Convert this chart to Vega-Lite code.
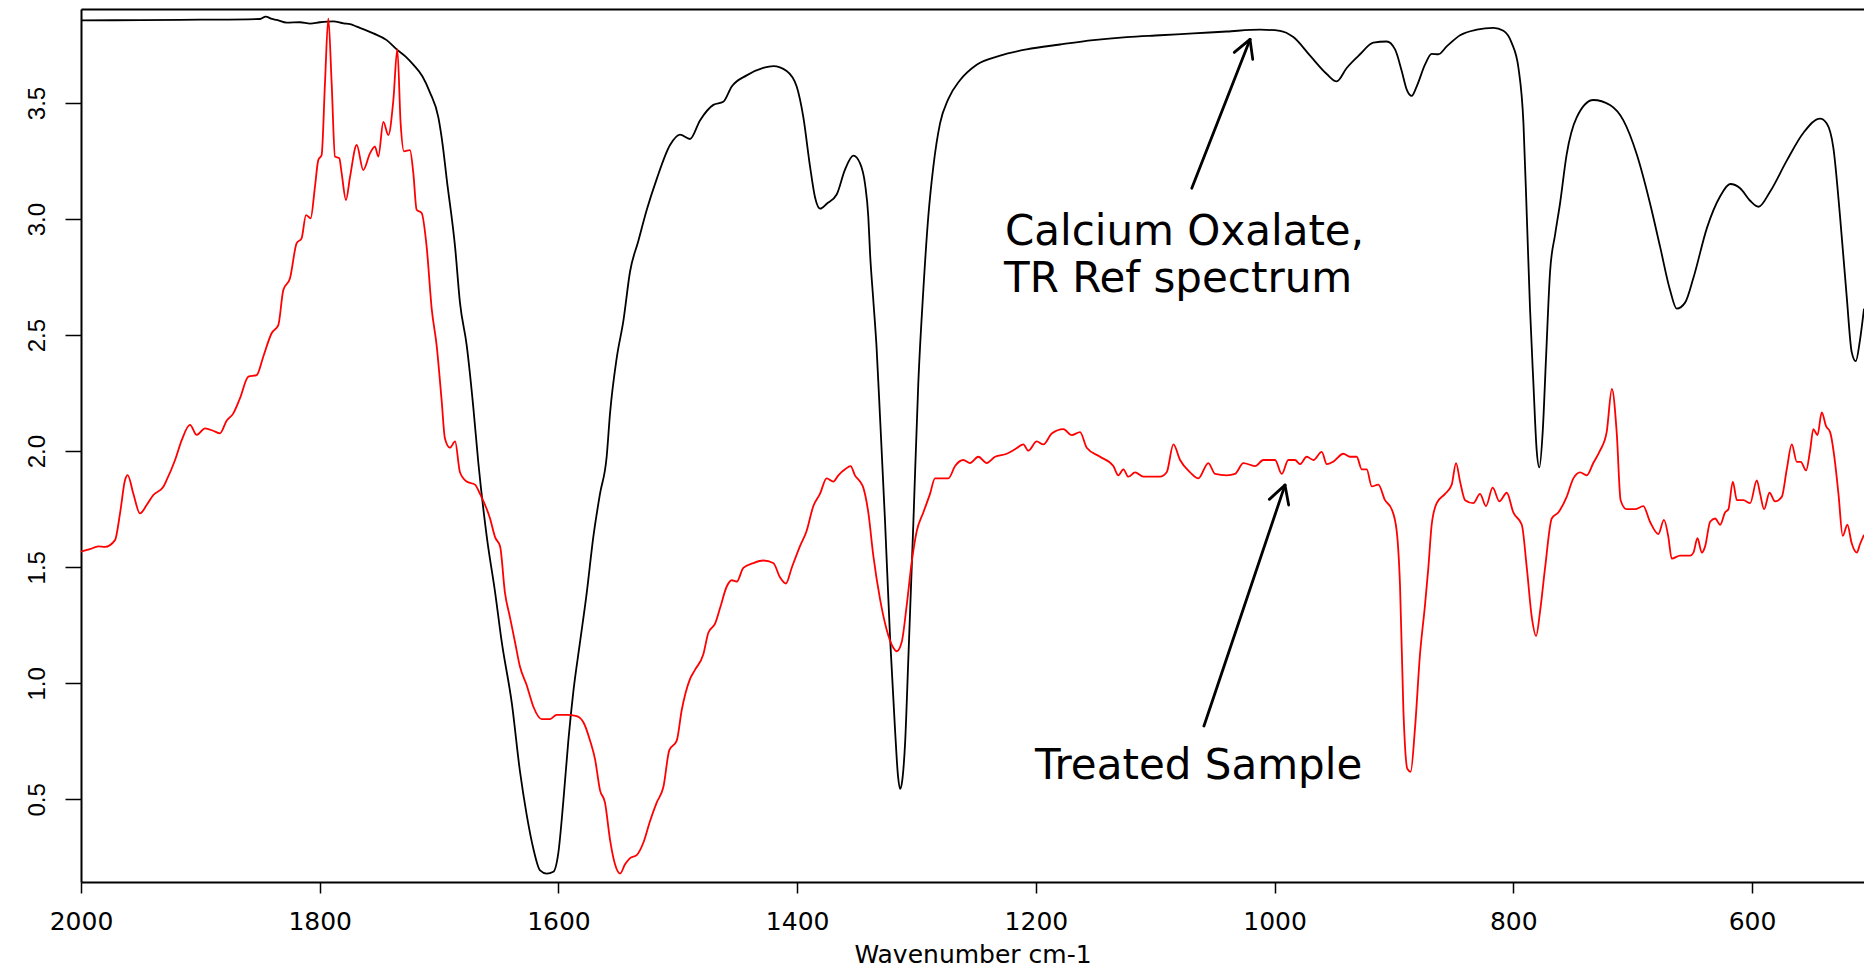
{
  "$schema": "https://vega.github.io/schema/vega-lite/v6.json",
  "width": 1783,
  "height": 873,
  "autosize": {"type": "none"},
  "padding": {"left": 81, "top": 9, "right": 0, "bottom": 86},
  "background": "white",
  "config": {
    "view": {"stroke": null},
    "axis": {"grid": false, "domainColor": "black", "tickColor": "black", "labelColor": "black", "titleColor": "black"}
  },
  "datasets": {
    "ref": [
      {"wavenumber": 2000, "absorbance": 3.856}, {"wavenumber": 1950, "absorbance": 3.857}, {"wavenumber": 1900, "absorbance": 3.859},
      {"wavenumber": 1850, "absorbance": 3.862}, {"wavenumber": 1845.3, "absorbance": 3.872}, {"wavenumber": 1840, "absorbance": 3.862},
      {"wavenumber": 1836, "absorbance": 3.858}, {"wavenumber": 1827.7, "absorbance": 3.846}, {"wavenumber": 1816.5, "absorbance": 3.848},
      {"wavenumber": 1808, "absorbance": 3.842}, {"wavenumber": 1799.8, "absorbance": 3.848}, {"wavenumber": 1788.6, "absorbance": 3.852},
      {"wavenumber": 1780, "absorbance": 3.843}, {"wavenumber": 1774.6, "absorbance": 3.84}, {"wavenumber": 1769, "absorbance": 3.829},
      {"wavenumber": 1755, "absorbance": 3.8}, {"wavenumber": 1743.9, "absorbance": 3.771}, {"wavenumber": 1735.5, "absorbance": 3.731},
      {"wavenumber": 1728, "absorbance": 3.7}, {"wavenumber": 1721.6, "absorbance": 3.665}, {"wavenumber": 1714, "absorbance": 3.615},
      {"wavenumber": 1707.6, "absorbance": 3.545}, {"wavenumber": 1700.6, "absorbance": 3.438}, {"wavenumber": 1697, "absorbance": 3.32},
      {"wavenumber": 1693.6, "absorbance": 3.172}, {"wavenumber": 1686.6, "absorbance": 2.88}, {"wavenumber": 1682.5, "absorbance": 2.64},
      {"wavenumber": 1676.8, "absorbance": 2.454}, {"wavenumber": 1671.3, "absorbance": 2.188}, {"wavenumber": 1667.1, "absorbance": 1.949},
      {"wavenumber": 1660, "absorbance": 1.63}, {"wavenumber": 1653, "absorbance": 1.39}, {"wavenumber": 1647.5, "absorbance": 1.178},
      {"wavenumber": 1639, "absorbance": 0.912}, {"wavenumber": 1632.2, "absorbance": 0.619}, {"wavenumber": 1626.6, "absorbance": 0.433},
      {"wavenumber": 1621, "absorbance": 0.287}, {"wavenumber": 1615.4, "absorbance": 0.194}, {"wavenumber": 1609.8, "absorbance": 0.18},
      {"wavenumber": 1604.3, "absorbance": 0.188}, {"wavenumber": 1600, "absorbance": 0.273}, {"wavenumber": 1596, "absorbance": 0.486},
      {"wavenumber": 1591.7, "absorbance": 0.753}, {"wavenumber": 1587.5, "absorbance": 0.965}, {"wavenumber": 1581.9, "absorbance": 1.178},
      {"wavenumber": 1576.3, "absorbance": 1.39}, {"wavenumber": 1570.8, "absorbance": 1.63}, {"wavenumber": 1565.2, "absorbance": 1.816},
      {"wavenumber": 1559.6, "absorbance": 1.976}, {"wavenumber": 1556.8, "absorbance": 2.162}, {"wavenumber": 1551.2, "absorbance": 2.401},
      {"wavenumber": 1545.6, "absorbance": 2.561}, {"wavenumber": 1540, "absorbance": 2.774}, {"wavenumber": 1533, "absorbance": 2.907},
      {"wavenumber": 1526, "absorbance": 3.04}, {"wavenumber": 1517.7, "absorbance": 3.172}, {"wavenumber": 1506.5, "absorbance": 3.319},
      {"wavenumber": 1498.2, "absorbance": 3.364}, {"wavenumber": 1489.8, "absorbance": 3.345}, {"wavenumber": 1481.4, "absorbance": 3.425},
      {"wavenumber": 1470.2, "absorbance": 3.492}, {"wavenumber": 1461.9, "absorbance": 3.505}, {"wavenumber": 1454.8, "absorbance": 3.571},
      {"wavenumber": 1442.3, "absorbance": 3.619}, {"wavenumber": 1428.4, "absorbance": 3.651}, {"wavenumber": 1420, "absorbance": 3.659},
      {"wavenumber": 1408.8, "absorbance": 3.638}, {"wavenumber": 1400.4, "absorbance": 3.571}, {"wavenumber": 1394.8, "absorbance": 3.438},
      {"wavenumber": 1389.2, "absorbance": 3.226}, {"wavenumber": 1385, "absorbance": 3.093}, {"wavenumber": 1380.8, "absorbance": 3.045},
      {"wavenumber": 1375.2, "absorbance": 3.066}, {"wavenumber": 1366.9, "absorbance": 3.106}, {"wavenumber": 1360, "absorbance": 3.212},
      {"wavenumber": 1352.9, "absorbance": 3.273}, {"wavenumber": 1347.3, "absorbance": 3.24}, {"wavenumber": 1343.1, "absorbance": 3.15},
      {"wavenumber": 1340.4, "absorbance": 3.01}, {"wavenumber": 1338.9, "absorbance": 2.85}, {"wavenumber": 1336.2, "absorbance": 2.65},
      {"wavenumber": 1333.5, "absorbance": 2.45}, {"wavenumber": 1330.6, "absorbance": 2.15}, {"wavenumber": 1326.4, "absorbance": 1.7},
      {"wavenumber": 1322.2, "absorbance": 1.2}, {"wavenumber": 1318, "absorbance": 0.8}, {"wavenumber": 1315.5, "absorbance": 0.6},
      {"wavenumber": 1313.8, "absorbance": 0.545}, {"wavenumber": 1312, "absorbance": 0.58}, {"wavenumber": 1309.5, "absorbance": 0.75},
      {"wavenumber": 1306.9, "absorbance": 1.1}, {"wavenumber": 1302.7, "absorbance": 1.683}, {"wavenumber": 1298.5, "absorbance": 2.295},
      {"wavenumber": 1294.3, "absorbance": 2.694}, {"wavenumber": 1290.1, "absorbance": 3.013}, {"wavenumber": 1285.9, "absorbance": 3.226},
      {"wavenumber": 1280.3, "absorbance": 3.412}, {"wavenumber": 1273.3, "absorbance": 3.518}, {"wavenumber": 1263.6, "absorbance": 3.598},
      {"wavenumber": 1249.6, "absorbance": 3.665}, {"wavenumber": 1230, "absorbance": 3.704}, {"wavenumber": 1207.7, "absorbance": 3.731},
      {"wavenumber": 1179.8, "absorbance": 3.752}, {"wavenumber": 1151.9, "absorbance": 3.771}, {"wavenumber": 1123.9, "absorbance": 3.784},
      {"wavenumber": 1096, "absorbance": 3.792}, {"wavenumber": 1068.1, "absorbance": 3.8}, {"wavenumber": 1040.1, "absorbance": 3.808},
      {"wavenumber": 1012.2, "absorbance": 3.816}, {"wavenumber": 995.5, "absorbance": 3.811}, {"wavenumber": 984.3, "absorbance": 3.784},
      {"wavenumber": 970.3, "absorbance": 3.704}, {"wavenumber": 956.3, "absorbance": 3.625}, {"wavenumber": 948, "absorbance": 3.593},
      {"wavenumber": 939.6, "absorbance": 3.651}, {"wavenumber": 928.4, "absorbance": 3.71}, {"wavenumber": 917.3, "absorbance": 3.76},
      {"wavenumber": 906.1, "absorbance": 3.765}, {"wavenumber": 899.1, "absorbance": 3.731}, {"wavenumber": 893.5, "absorbance": 3.638},
      {"wavenumber": 889.3, "absorbance": 3.558}, {"wavenumber": 885.1, "absorbance": 3.531}, {"wavenumber": 881, "absorbance": 3.571},
      {"wavenumber": 874, "absorbance": 3.665}, {"wavenumber": 868.4, "absorbance": 3.712}, {"wavenumber": 862.8, "absorbance": 3.71},
      {"wavenumber": 855.8, "absorbance": 3.744}, {"wavenumber": 844.6, "absorbance": 3.792}, {"wavenumber": 830.6, "absorbance": 3.816},
      {"wavenumber": 816.7, "absorbance": 3.824}, {"wavenumber": 808.3, "absorbance": 3.811}, {"wavenumber": 801.3, "absorbance": 3.758},
      {"wavenumber": 795.7, "absorbance": 3.651}, {"wavenumber": 791.5, "absorbance": 3.412}, {"wavenumber": 788.7, "absorbance": 3.013},
      {"wavenumber": 786, "absorbance": 2.614}, {"wavenumber": 783.2, "absorbance": 2.295}, {"wavenumber": 780.4, "absorbance": 2.002},
      {"wavenumber": 778.2, "absorbance": 1.93}, {"wavenumber": 775.4, "absorbance": 2.082}, {"wavenumber": 772.6, "absorbance": 2.401},
      {"wavenumber": 769.2, "absorbance": 2.774}, {"wavenumber": 765, "absorbance": 2.933}, {"wavenumber": 760.9, "absorbance": 3.066},
      {"wavenumber": 755.3, "absorbance": 3.279}, {"wavenumber": 746.9, "absorbance": 3.438}, {"wavenumber": 733, "absorbance": 3.513},
      {"wavenumber": 719, "absorbance": 3.491}, {"wavenumber": 707.8, "absorbance": 3.425}, {"wavenumber": 696.6, "absorbance": 3.279},
      {"wavenumber": 685.4, "absorbance": 3.066}, {"wavenumber": 677, "absorbance": 2.88}, {"wavenumber": 668.7, "absorbance": 2.694},
      {"wavenumber": 663.1, "absorbance": 2.614}, {"wavenumber": 656.1, "absorbance": 2.64}, {"wavenumber": 649.1, "absorbance": 2.747},
      {"wavenumber": 637.9, "absorbance": 2.96}, {"wavenumber": 626.7, "absorbance": 3.098}, {"wavenumber": 618.3, "absorbance": 3.151},
      {"wavenumber": 610, "absorbance": 3.133}, {"wavenumber": 601.6, "absorbance": 3.079}, {"wavenumber": 594.6, "absorbance": 3.053},
      {"wavenumber": 584.8, "absorbance": 3.119}, {"wavenumber": 570.9, "absorbance": 3.252}, {"wavenumber": 556.9, "absorbance": 3.372},
      {"wavenumber": 543, "absorbance": 3.433}, {"wavenumber": 537.4, "absorbance": 3.412}, {"wavenumber": 531.8, "absorbance": 3.305},
      {"wavenumber": 526.3, "absorbance": 3.013}, {"wavenumber": 520.7, "absorbance": 2.667}, {"wavenumber": 516.5, "absorbance": 2.427},
      {"wavenumber": 513.1, "absorbance": 2.388}, {"wavenumber": 509.5, "absorbance": 2.481}, {"wavenumber": 506.2, "absorbance": 2.614}
    ],
    "sample": [
      {"wavenumber": 2000, "absorbance": 1.567}, {"wavenumber": 1992.5, "absorbance": 1.578}, {"wavenumber": 1985.5, "absorbance": 1.59},
      {"wavenumber": 1979.9, "absorbance": 1.588}, {"wavenumber": 1971.5, "absorbance": 1.617}, {"wavenumber": 1967.3, "absorbance": 1.732},
      {"wavenumber": 1963.1, "absorbance": 1.876}, {"wavenumber": 1960.9, "absorbance": 1.897}, {"wavenumber": 1956.2, "absorbance": 1.818},
      {"wavenumber": 1950.6, "absorbance": 1.732}, {"wavenumber": 1945, "absorbance": 1.768}, {"wavenumber": 1939.4, "absorbance": 1.811},
      {"wavenumber": 1931, "absorbance": 1.847}, {"wavenumber": 1928.2, "absorbance": 1.876}, {"wavenumber": 1921.2, "absorbance": 1.962},
      {"wavenumber": 1915.6, "absorbance": 2.048}, {"wavenumber": 1908.7, "absorbance": 2.113}, {"wavenumber": 1903.1, "absorbance": 2.07},
      {"wavenumber": 1896.1, "absorbance": 2.098}, {"wavenumber": 1889.2, "absorbance": 2.088}, {"wavenumber": 1883.6, "absorbance": 2.077},
      {"wavenumber": 1878, "absorbance": 2.131}, {"wavenumber": 1872.4, "absorbance": 2.163}, {"wavenumber": 1866.8, "absorbance": 2.228},
      {"wavenumber": 1859.8, "absorbance": 2.321}, {"wavenumber": 1852.8, "absorbance": 2.328}, {"wavenumber": 1847.3, "absorbance": 2.407},
      {"wavenumber": 1840.3, "absorbance": 2.508}, {"wavenumber": 1834.7, "absorbance": 2.543}, {"wavenumber": 1830.5, "absorbance": 2.694},
      {"wavenumber": 1824.9, "absorbance": 2.745}, {"wavenumber": 1819.3, "absorbance": 2.896}, {"wavenumber": 1815.2, "absorbance": 2.917},
      {"wavenumber": 1811.5, "absorbance": 3.017}, {"wavenumber": 1807.6, "absorbance": 3.003}, {"wavenumber": 1804, "absorbance": 3.139},
      {"wavenumber": 1801.2, "absorbance": 3.254}, {"wavenumber": 1798.4, "absorbance": 3.276}, {"wavenumber": 1795.6, "absorbance": 3.585},
      {"wavenumber": 1792.8, "absorbance": 3.865}, {"wavenumber": 1790, "absorbance": 3.585}, {"wavenumber": 1787.2, "absorbance": 3.269},
      {"wavenumber": 1783.6, "absorbance": 3.262}, {"wavenumber": 1781.6, "absorbance": 3.197}, {"wavenumber": 1778, "absorbance": 3.082},
      {"wavenumber": 1774.6, "absorbance": 3.182}, {"wavenumber": 1769, "absorbance": 3.319}, {"wavenumber": 1763.5, "absorbance": 3.211},
      {"wavenumber": 1757.9, "absorbance": 3.283}, {"wavenumber": 1753.7, "absorbance": 3.312}, {"wavenumber": 1750.9, "absorbance": 3.269},
      {"wavenumber": 1746.7, "absorbance": 3.419}, {"wavenumber": 1742.5, "absorbance": 3.362}, {"wavenumber": 1738.3, "absorbance": 3.513},
      {"wavenumber": 1735, "absorbance": 3.732}, {"wavenumber": 1732.2, "absorbance": 3.412}, {"wavenumber": 1729.4, "absorbance": 3.292},
      {"wavenumber": 1724.4, "absorbance": 3.297}, {"wavenumber": 1721.6, "absorbance": 3.199}, {"wavenumber": 1718.8, "absorbance": 3.04},
      {"wavenumber": 1714.6, "absorbance": 3.026}, {"wavenumber": 1710.4, "absorbance": 2.88}, {"wavenumber": 1706.2, "absorbance": 2.614},
      {"wavenumber": 1702, "absorbance": 2.454}, {"wavenumber": 1697.8, "absorbance": 2.215}, {"wavenumber": 1695.1, "absorbance": 2.055},
      {"wavenumber": 1690.9, "absorbance": 2.015}, {"wavenumber": 1686.6, "absorbance": 2.042}, {"wavenumber": 1682.5, "absorbance": 1.909},
      {"wavenumber": 1676.9, "absorbance": 1.869}, {"wavenumber": 1669.9, "absorbance": 1.856}, {"wavenumber": 1665.7, "absorbance": 1.816},
      {"wavenumber": 1657.3, "absorbance": 1.71}, {"wavenumber": 1653.1, "absorbance": 1.63}, {"wavenumber": 1648.9, "absorbance": 1.59},
      {"wavenumber": 1644.8, "absorbance": 1.39}, {"wavenumber": 1640.6, "absorbance": 1.284}, {"wavenumber": 1636.4, "absorbance": 1.178},
      {"wavenumber": 1632.2, "absorbance": 1.071}, {"wavenumber": 1626.6, "absorbance": 0.992}, {"wavenumber": 1621, "absorbance": 0.899},
      {"wavenumber": 1614, "absorbance": 0.846}, {"wavenumber": 1607, "absorbance": 0.846}, {"wavenumber": 1601.5, "absorbance": 0.864},
      {"wavenumber": 1593.1, "absorbance": 0.864}, {"wavenumber": 1584.7, "absorbance": 0.859}, {"wavenumber": 1579.1, "absorbance": 0.832},
      {"wavenumber": 1573.5, "absorbance": 0.753}, {"wavenumber": 1569.3, "absorbance": 0.672}, {"wavenumber": 1565.2, "absorbance": 0.54},
      {"wavenumber": 1561, "absorbance": 0.486}, {"wavenumber": 1556.8, "absorbance": 0.327}, {"wavenumber": 1552.6, "absorbance": 0.22},
      {"wavenumber": 1548.4, "absorbance": 0.18}, {"wavenumber": 1544.2, "absorbance": 0.22}, {"wavenumber": 1540, "absorbance": 0.247},
      {"wavenumber": 1534.4, "absorbance": 0.26}, {"wavenumber": 1528.9, "absorbance": 0.313}, {"wavenumber": 1523.3, "absorbance": 0.406},
      {"wavenumber": 1517.7, "absorbance": 0.486}, {"wavenumber": 1512.1, "absorbance": 0.553}, {"wavenumber": 1507.1, "absorbance": 0.712},
      {"wavenumber": 1500.9, "absorbance": 0.753}, {"wavenumber": 1496.7, "absorbance": 0.885}, {"wavenumber": 1489.8, "absorbance": 1.018},
      {"wavenumber": 1485.6, "absorbance": 1.058}, {"wavenumber": 1478.6, "absorbance": 1.125}, {"wavenumber": 1474.4, "absorbance": 1.218},
      {"wavenumber": 1468.8, "absorbance": 1.257}, {"wavenumber": 1464.6, "absorbance": 1.324}, {"wavenumber": 1459, "absorbance": 1.417},
      {"wavenumber": 1454.8, "absorbance": 1.444}, {"wavenumber": 1450.6, "absorbance": 1.438}, {"wavenumber": 1445.1, "absorbance": 1.497},
      {"wavenumber": 1436.7, "absorbance": 1.518}, {"wavenumber": 1428.4, "absorbance": 1.529}, {"wavenumber": 1420, "absorbance": 1.518},
      {"wavenumber": 1414.4, "absorbance": 1.457}, {"wavenumber": 1409.4, "absorbance": 1.43}, {"wavenumber": 1404.6, "absorbance": 1.497},
      {"wavenumber": 1397.7, "absorbance": 1.59}, {"wavenumber": 1392.1, "absorbance": 1.656}, {"wavenumber": 1386.5, "absorbance": 1.763},
      {"wavenumber": 1380.9, "absorbance": 1.816}, {"wavenumber": 1375.3, "absorbance": 1.883}, {"wavenumber": 1369.7, "absorbance": 1.869},
      {"wavenumber": 1365.5, "absorbance": 1.896}, {"wavenumber": 1359.9, "absorbance": 1.922}, {"wavenumber": 1355.2, "absorbance": 1.936},
      {"wavenumber": 1351.6, "absorbance": 1.896}, {"wavenumber": 1347.3, "absorbance": 1.869}, {"wavenumber": 1344.6, "absorbance": 1.843},
      {"wavenumber": 1340.4, "absorbance": 1.736}, {"wavenumber": 1336.2, "absorbance": 1.55}, {"wavenumber": 1330.6, "absorbance": 1.364},
      {"wavenumber": 1325, "absorbance": 1.231}, {"wavenumber": 1319.3, "absorbance": 1.152}, {"wavenumber": 1316.6, "absorbance": 1.138},
      {"wavenumber": 1312.4, "absorbance": 1.178}, {"wavenumber": 1308.2, "absorbance": 1.337}, {"wavenumber": 1304, "absorbance": 1.523},
      {"wavenumber": 1299.8, "absorbance": 1.656}, {"wavenumber": 1294.3, "absorbance": 1.736}, {"wavenumber": 1288.7, "absorbance": 1.816},
      {"wavenumber": 1284.5, "absorbance": 1.883}, {"wavenumber": 1273.3, "absorbance": 1.883}, {"wavenumber": 1267.7, "absorbance": 1.936},
      {"wavenumber": 1260.8, "absorbance": 1.962}, {"wavenumber": 1255.2, "absorbance": 1.949}, {"wavenumber": 1248.2, "absorbance": 1.976},
      {"wavenumber": 1241.2, "absorbance": 1.949}, {"wavenumber": 1234.2, "absorbance": 1.976}, {"wavenumber": 1224.4, "absorbance": 1.989},
      {"wavenumber": 1217.5, "absorbance": 2.008}, {"wavenumber": 1210.5, "absorbance": 2.029}, {"wavenumber": 1206.3, "absorbance": 2.002},
      {"wavenumber": 1199.3, "absorbance": 2.042}, {"wavenumber": 1193.7, "absorbance": 2.029}, {"wavenumber": 1186.7, "absorbance": 2.076},
      {"wavenumber": 1177, "absorbance": 2.095}, {"wavenumber": 1170, "absorbance": 2.069}, {"wavenumber": 1163, "absorbance": 2.082},
      {"wavenumber": 1157.4, "absorbance": 2.015}, {"wavenumber": 1146.2, "absorbance": 1.976}, {"wavenumber": 1135.1, "absorbance": 1.936},
      {"wavenumber": 1130.9, "absorbance": 1.896}, {"wavenumber": 1126.7, "absorbance": 1.922}, {"wavenumber": 1122.5, "absorbance": 1.89},
      {"wavenumber": 1116.9, "absorbance": 1.909}, {"wavenumber": 1109.9, "absorbance": 1.89}, {"wavenumber": 1096, "absorbance": 1.89},
      {"wavenumber": 1090.4, "absorbance": 1.909}, {"wavenumber": 1084.8, "absorbance": 2.029}, {"wavenumber": 1079.2, "absorbance": 1.962},
      {"wavenumber": 1070.8, "absorbance": 1.909}, {"wavenumber": 1063.9, "absorbance": 1.883}, {"wavenumber": 1055.5, "absorbance": 1.949},
      {"wavenumber": 1049.9, "absorbance": 1.902}, {"wavenumber": 1040.1, "absorbance": 1.896}, {"wavenumber": 1033.1, "absorbance": 1.902},
      {"wavenumber": 1026.2, "absorbance": 1.949}, {"wavenumber": 1016.4, "absorbance": 1.936}, {"wavenumber": 1009.4, "absorbance": 1.962},
      {"wavenumber": 999.6, "absorbance": 1.962}, {"wavenumber": 994, "absorbance": 1.902}, {"wavenumber": 988.5, "absorbance": 1.962},
      {"wavenumber": 982.9, "absorbance": 1.962}, {"wavenumber": 978.7, "absorbance": 1.944}, {"wavenumber": 973.1, "absorbance": 1.976},
      {"wavenumber": 967.5, "absorbance": 1.962}, {"wavenumber": 960.5, "absorbance": 1.997}, {"wavenumber": 956.3, "absorbance": 1.944},
      {"wavenumber": 950.8, "absorbance": 1.955}, {"wavenumber": 942.4, "absorbance": 1.989}, {"wavenumber": 936.8, "absorbance": 1.976},
      {"wavenumber": 931.2, "absorbance": 1.976}, {"wavenumber": 927, "absorbance": 1.922}, {"wavenumber": 922.8, "absorbance": 1.922},
      {"wavenumber": 918.6, "absorbance": 1.848}, {"wavenumber": 913.1, "absorbance": 1.856}, {"wavenumber": 907.5, "absorbance": 1.789},
      {"wavenumber": 901.9, "absorbance": 1.75}, {"wavenumber": 897.7, "absorbance": 1.656}, {"wavenumber": 894.9, "absorbance": 1.417},
      {"wavenumber": 892.1, "absorbance": 0.885}, {"wavenumber": 888.8, "absorbance": 0.632}, {"wavenumber": 886, "absorbance": 0.619},
      {"wavenumber": 882.4, "absorbance": 0.805}, {"wavenumber": 878.2, "absorbance": 1.124}, {"wavenumber": 874, "absorbance": 1.337},
      {"wavenumber": 871.2, "absorbance": 1.497}, {"wavenumber": 868.4, "absorbance": 1.683}, {"wavenumber": 864.2, "absorbance": 1.776},
      {"wavenumber": 857.2, "absorbance": 1.816}, {"wavenumber": 851.6, "absorbance": 1.856}, {"wavenumber": 848, "absorbance": 1.949},
      {"wavenumber": 844.6, "absorbance": 1.869}, {"wavenumber": 840.4, "absorbance": 1.789}, {"wavenumber": 833.5, "absorbance": 1.776},
      {"wavenumber": 827.9, "absorbance": 1.816}, {"wavenumber": 822.9, "absorbance": 1.763}, {"wavenumber": 817.3, "absorbance": 1.843},
      {"wavenumber": 811.7, "absorbance": 1.784}, {"wavenumber": 805.5, "absorbance": 1.821}, {"wavenumber": 800, "absorbance": 1.736},
      {"wavenumber": 792.9, "absorbance": 1.683}, {"wavenumber": 788.7, "absorbance": 1.497}, {"wavenumber": 784.5, "absorbance": 1.284},
      {"wavenumber": 780.9, "absorbance": 1.204}, {"wavenumber": 777.6, "absorbance": 1.31}, {"wavenumber": 773.4, "absorbance": 1.497},
      {"wavenumber": 767.8, "absorbance": 1.71}, {"wavenumber": 762.3, "absorbance": 1.736}, {"wavenumber": 755.3, "absorbance": 1.803},
      {"wavenumber": 749.7, "absorbance": 1.883}, {"wavenumber": 744.1, "absorbance": 1.909}, {"wavenumber": 738.5, "absorbance": 1.896},
      {"wavenumber": 733, "absorbance": 1.949}, {"wavenumber": 727.4, "absorbance": 2.002}, {"wavenumber": 721.8, "absorbance": 2.082},
      {"wavenumber": 717.4, "absorbance": 2.268}, {"wavenumber": 713.4, "absorbance": 2.082}, {"wavenumber": 710.1, "absorbance": 1.789},
      {"wavenumber": 705.1, "absorbance": 1.75}, {"wavenumber": 698.1, "absorbance": 1.75}, {"wavenumber": 691.1, "absorbance": 1.763},
      {"wavenumber": 685.5, "absorbance": 1.696}, {"wavenumber": 678.5, "absorbance": 1.643}, {"wavenumber": 673.8, "absorbance": 1.704},
      {"wavenumber": 670.1, "absorbance": 1.63}, {"wavenumber": 667.3, "absorbance": 1.537}, {"wavenumber": 660.3, "absorbance": 1.55},
      {"wavenumber": 651.9, "absorbance": 1.55}, {"wavenumber": 649.1, "absorbance": 1.563}, {"wavenumber": 645.7, "absorbance": 1.625},
      {"wavenumber": 642.1, "absorbance": 1.563}, {"wavenumber": 639.3, "absorbance": 1.59}, {"wavenumber": 635.1, "absorbance": 1.696},
      {"wavenumber": 630.9, "absorbance": 1.71}, {"wavenumber": 626.7, "absorbance": 1.683}, {"wavenumber": 622.6, "absorbance": 1.736},
      {"wavenumber": 619.8, "absorbance": 1.75}, {"wavenumber": 616.1, "absorbance": 1.869}, {"wavenumber": 612.7, "absorbance": 1.789},
      {"wavenumber": 607.2, "absorbance": 1.789}, {"wavenumber": 601.6, "absorbance": 1.776}, {"wavenumber": 596, "absorbance": 1.874},
      {"wavenumber": 593.2, "absorbance": 1.816}, {"wavenumber": 589.9, "absorbance": 1.75}, {"wavenumber": 585.4, "absorbance": 1.821},
      {"wavenumber": 580.7, "absorbance": 1.784}, {"wavenumber": 575.1, "absorbance": 1.803}, {"wavenumber": 570.9, "absorbance": 1.922},
      {"wavenumber": 566.7, "absorbance": 2.029}, {"wavenumber": 562.5, "absorbance": 1.954}, {"wavenumber": 559.2, "absorbance": 1.954},
      {"wavenumber": 554.7, "absorbance": 1.917}, {"wavenumber": 551.4, "absorbance": 2.002}, {"wavenumber": 548.6, "absorbance": 2.095},
      {"wavenumber": 545.2, "absorbance": 2.069}, {"wavenumber": 541.6, "absorbance": 2.167}, {"wavenumber": 538, "absorbance": 2.108},
      {"wavenumber": 534.6, "absorbance": 2.082}, {"wavenumber": 530.4, "absorbance": 1.949}, {"wavenumber": 527.6, "absorbance": 1.816},
      {"wavenumber": 524, "absorbance": 1.635}, {"wavenumber": 520.1, "absorbance": 1.683}, {"wavenumber": 516.5, "absorbance": 1.603},
      {"wavenumber": 512.3, "absorbance": 1.563}, {"wavenumber": 509.5, "absorbance": 1.6}, {"wavenumber": 506.2, "absorbance": 1.64}
    ],
    "arrows": [
      {"wavenumber": 1069.4, "absorbance": 3.1325, "wavenumber2": 1020.6, "absorbance2": 3.774},
      {"wavenumber": 1033.8, "absorbance": 3.718, "wavenumber2": 1020.6, "absorbance2": 3.774},
      {"wavenumber": 1018.3, "absorbance": 3.688, "wavenumber2": 1020.6, "absorbance2": 3.774},
      {"wavenumber": 1059.2, "absorbance": 0.816, "wavenumber2": 991.3, "absorbance2": 1.854},
      {"wavenumber": 1004.4, "absorbance": 1.7925, "wavenumber2": 991.3, "absorbance2": 1.854},
      {"wavenumber": 988.2, "absorbance": 1.768, "wavenumber2": 991.3, "absorbance2": 1.854}
    ],
    "labels": [
      {"wavenumber": 1225.9, "absorbance": 2.888, "label": "Calcium Oxalate,"},
      {"wavenumber": 1226.7, "absorbance": 2.687, "label": "TR Ref spectrum"},
      {"wavenumber": 1200.7, "absorbance": 0.587, "label": "Treated Sample"}
    ]
  },
  "layer": [
    {
      "data": {"name": "ref"},
      "mark": {"type": "line", "color": "#000000", "strokeWidth": 1.8, "interpolate": "monotone"},
      "encoding": {
        "x": {
          "field": "wavenumber", "type": "quantitative",
          "scale": {"domain": [506.2, 2000], "reverse": true, "nice": false, "zero": false},
          "axis": {
            "orient": "bottom",
            "values": [2000, 1800, 1600, 1400, 1200, 1000, 800, 600],
            "format": "d",
            "labelFont": "DejaVu Sans", "labelFontSize": 25, "labelPadding": 16, "labelAngle": 0, "labelBaseline": "top",
            "labelFlush": false, "labelOverlap": false,
            "tickSize": 11, "tickWidth": 1.5, "domainWidth": 2,
            "title": "Wavenumber cm-1", "titleFont": "DejaVu Sans", "titleFontSize": 25, "titleFontWeight": "normal",
            "titleBaseline": "alphabetic", "titleY": 80
          }
        },
        "y": {
          "field": "absorbance", "type": "quantitative",
          "scale": {"domain": [0.144, 3.905], "nice": false, "zero": false},
          "axis": {
            "values": [0.5, 1, 1.5, 2, 2.5, 3, 3.5],
            "format": ".1f",
            "labelAngle": 270, "labelAlign": "center", "labelBaseline": "bottom",
            "labelFont": "Liberation Sans", "labelFontSize": 24, "labelPadding": 16,
            "labelFlush": false, "labelOverlap": false,
            "tickSize": 16, "tickWidth": 1.5, "domainWidth": 2,
            "title": null
          }
        },
        "order": {"field": "wavenumber", "sort": "descending"}
      }
    },
    {
      "data": {"name": "sample"},
      "mark": {"type": "line", "color": "#ff0000", "strokeWidth": 1.8, "interpolate": "monotone"},
      "encoding": {
        "x": {
          "field": "wavenumber", "type": "quantitative",
          "axis": {"orient": "top", "labels": false, "ticks": false, "title": null, "domainWidth": 2, "values": []}
        },
        "y": {"field": "absorbance", "type": "quantitative", "title": null},
        "order": {"field": "wavenumber", "sort": "descending"}
      }
    },
    {
      "data": {"name": "arrows"},
      "mark": {"type": "rule", "color": "#000000", "strokeWidth": 2.8, "strokeCap": "round"},
      "encoding": {
        "x": {"field": "wavenumber", "type": "quantitative", "axis": null},
        "y": {"field": "absorbance", "type": "quantitative", "title": null},
        "x2": {"field": "wavenumber2"},
        "y2": {"field": "absorbance2"}
      }
    },
    {
      "data": {"name": "labels"},
      "mark": {"type": "text", "font": "DejaVu Sans", "fontSize": 42, "align": "left", "baseline": "alphabetic", "color": "#000000"},
      "encoding": {
        "x": {"field": "wavenumber", "type": "quantitative", "axis": null},
        "y": {"field": "absorbance", "type": "quantitative", "title": null},
        "text": {"field": "label"}
      }
    }
  ],
  "resolve": {"axis": {"x": "independent"}}
}
